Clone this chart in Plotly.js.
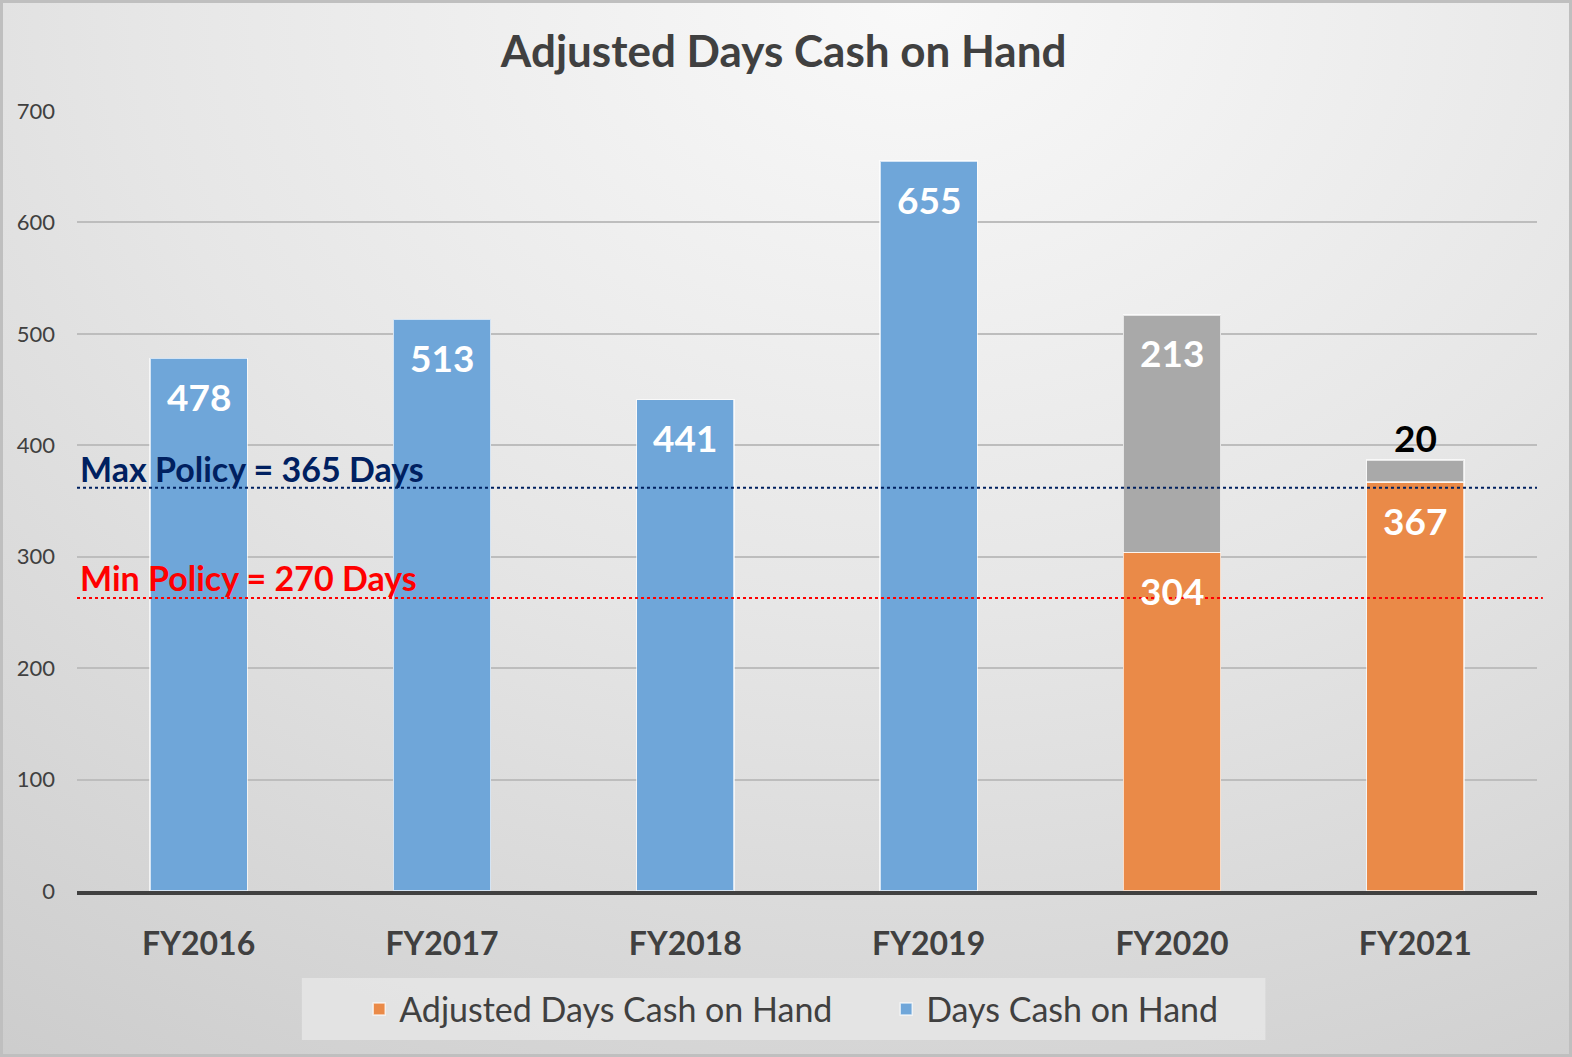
<!DOCTYPE html>
<html>
<head>
<meta charset="utf-8">
<script src="https://cdn.plot.ly/plotly-3.0.1.min.js"></script>
<style>
  html, body { margin: 0; padding: 0; }
  #chart {
    width: 1572px; height: 1057px;
    background: radial-gradient(ellipse 110% 130% at 58% 0%, #f9f9f9 0%, #e6e6e6 45%, #c9c9c9 100%);
    box-shadow: inset 0 0 0 3px #bfbfbf;
  }
</style>
</head>
<body>
<div id="chart"></div>
<script>
const categories = ['FY2016', 'FY2017', 'FY2018', 'FY2019', 'FY2020', 'FY2021'];
const daysCash = [478, 513, 441, 655, null, null];
const adjustedDays = [null, null, null, null, 304, 367];
const adjustment = [null, null, null, null, 213, 20];
const yTicks = [0, 100, 200, 300, 400, 500, 600, 700];
const maxPolicyLabel = 'Max Policy = 365 Days';
const minPolicyLabel = 'Min Policy = 270 Days';
const maxPolicyLineY = 362;
const minPolicyLineY = 263;

const FONT = 'Lato, "Open Sans", sans-serif';
const barLine = { color: 'rgba(255,255,255,0.7)', width: 1.5 };

const traces = [
  { type: 'bar', name: 'Adjusted Days Cash on Hand', x: categories, y: adjustedDays,
    marker: { color: '#ea8a48', line: barLine }, width: 0.4, hoverinfo: 'x+y' },
  { type: 'bar', name: 'Days Cash on Hand', x: categories, y: daysCash,
    marker: { color: '#6fa6d9', line: barLine }, width: 0.4, hoverinfo: 'x+y' },
  { type: 'bar', name: 'Adjustment', x: categories, y: adjustment, showlegend: false,
    marker: { color: '#a9a9a9', line: barLine }, width: 0.4, hoverinfo: 'x+y' }
];

const labelFont = { family: FONT, size: 37, color: '#ffffff', weight: 'bold' };
const annotations = [];
categories.forEach((c, i) => {
  if (daysCash[i] != null) {
    annotations.push({ x: c, y: daysCash[i], yshift: -38, text: '<b>' + daysCash[i] + '</b>',
      showarrow: false, font: labelFont });
  }
  if (adjustedDays[i] != null) {
    annotations.push({ x: c, y: adjustedDays[i], yshift: -38, text: '<b>' + adjustedDays[i] + '</b>',
      showarrow: false, font: labelFont });
  }
  if (adjustment[i] != null) {
    const top = adjustedDays[i] + adjustment[i];
    const small = adjustment[i] < 50;
    annotations.push({ x: c, y: top, yshift: small ? 22 : -38, text: '<b>' + adjustment[i] + '</b>',
      showarrow: false, font: Object.assign({}, labelFont, { color: small ? '#000000' : '#ffffff' }) });
  }
});
annotations.push({ xref: 'paper', x: 0.001, xanchor: 'left', y: maxPolicyLineY, yanchor: 'bottom', yshift: -3,
  text: '<b>' + maxPolicyLabel + '</b>', showarrow: false,
  font: { family: FONT, size: 34, color: '#002060' } });
annotations.push({ xref: 'paper', x: 0.001, xanchor: 'left', y: minPolicyLineY, yanchor: 'bottom', yshift: -2,
  text: '<b>' + minPolicyLabel + '</b>', showarrow: false,
  font: { family: FONT, size: 34, color: '#ff0000' } });

const layout = {
  width: 1572, height: 1057,
  paper_bgcolor: 'rgba(0,0,0,0)', plot_bgcolor: 'rgba(0,0,0,0)',
  margin: { l: 77, r: 35, t: 111, b: 166 },
  barmode: 'stack',
  title: { text: '<b>Adjusted Days Cash on Hand</b>', x: 0.4985, xref: 'container', y: 0.951, yanchor: 'middle',
    font: { family: FONT, size: 44, color: '#404040' } },
  font: { family: FONT, color: '#404040' },
  xaxis: { type: 'category', tickfont: { family: FONT, size: 32, color: '#404040', weight: 'bold' },
    ticklabelstandoff: 22, showgrid: false, showline: true, linecolor: '#404040', linewidth: 4, zeroline: false },
  yaxis: { range: [0, 700], tickvals: yTicks, tickfont: { family: FONT, size: 22, color: '#404040' },
    ticklabelstandoff: 21, showgrid: true, gridcolor: '#bdbdbd', gridwidth: 2, zeroline: false, showline: false },
  bargap: 0.6,
  showlegend: true,
  legend: { orientation: 'h', xref: 'container', x: 0.2285, xanchor: 'left', yref: 'container', y: 0.045, yanchor: 'middle',
    entrywidth: 482, entrywidthmode: 'pixels',
    bgcolor: 'rgba(0,0,0,0)', font: { family: FONT, size: 34, color: '#404040' }, traceorder: 'normal' },
  shapes: [
    { type: 'rect', xref: 'paper', yref: 'paper', x0: 0.154, x1: 0.814, y0: -0.191, y1: -0.1115,
      fillcolor: 'rgba(232,232,232,0.75)', line: { width: 0 }, layer: 'below' },
    { type: 'line', xref: 'paper', x0: 0, x1: 1, y0: maxPolicyLineY, y1: maxPolicyLineY,
      line: { color: '#002060', width: 2, dash: 'dot' } },
    { type: 'line', xref: 'paper', x0: 0, x1: 1.004, y0: minPolicyLineY, y1: minPolicyLineY,
      line: { color: '#ff0000', width: 2, dash: 'dot' } }
  ],
  annotations: annotations
};

Plotly.newPlot('chart', traces, layout, { displayModeBar: false, responsive: false });
</script>
</body>
</html>
